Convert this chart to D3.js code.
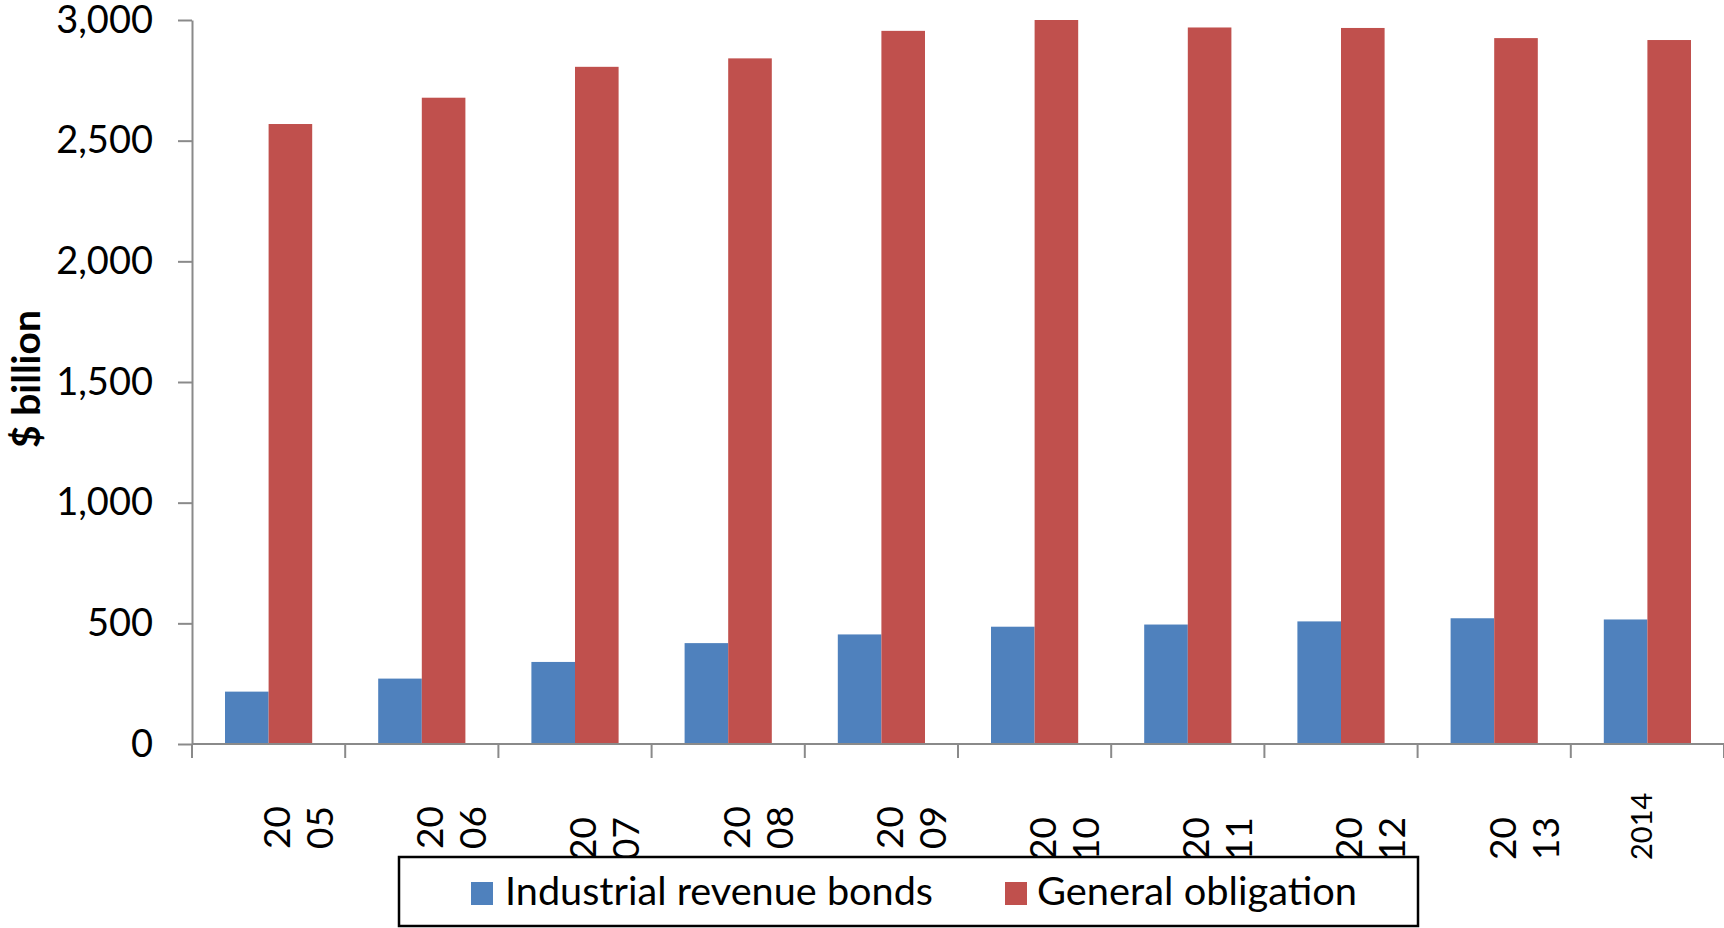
<!DOCTYPE html>
<html>
<head>
<meta charset="utf-8">
<script src="https://cdn.jsdelivr.net/npm/d3@7"></script>
<style>
  html, body { margin: 0; padding: 0; background: #fff; }
  svg { display: block; font-family: Lato, "Open Sans", sans-serif; }
</style>
</head>
<body>
<svg id="chart" width="1724" height="928"></svg>
<script>
// ---- data ----
const years = ["2005","2006","2007","2008","2009","2010","2011","2012","2013","2014"];
const yearLabelLines = [["20","05"],["20","06"],["20","07"],["20","08"],["20","09"],["20","10"],["20","11"],["20","12"],["20","13"],["2014"]];
const seriesNames = ["Industrial revenue bonds","General obligation"];
const industrialRevenueBonds = [217, 271, 340, 418, 454, 486, 495, 508, 521, 516];
const generalObligation = [2569, 2678, 2806, 2841, 2955, 3000, 2969, 2967, 2925, 2917];
const yTicks = [0, 500, 1000, 1500, 2000, 2500, 3000];
const yAxisTitle = "$ billion";

// ---- layout ----
const colors = ["#4F81BD", "#C0504D"];
const svg = d3.select("#chart");
const plotLeft = 192, plotRight = 1724, plotTop = 20, plotBottom = 744;

const x0 = d3.scaleBand().domain(years).range([plotLeft, plotRight]).padding(0);
const bw = x0.bandwidth();
const x1 = d3.scaleBand().domain(seriesNames).range([33, bw - 33]).padding(0);
const y = d3.scaleLinear().domain([0, 3000]).range([plotBottom, plotTop]);

const rows = years.map((yr, i) => ({ year: yr, values: [industrialRevenueBonds[i], generalObligation[i]] }));

// bars
const g = svg.append("g");
g.selectAll("g.grp").data(rows).join("g")
  .attr("class", "grp")
  .attr("transform", d => `translate(${x0(d.year)},0)`)
  .selectAll("rect").data(d => d.values.map((v, k) => ({ name: seriesNames[k], v, k })))
  .join("rect")
  .attr("x", d => x1(d.name))
  .attr("width", x1.bandwidth())
  .attr("y", d => y(d.v))
  .attr("height", d => y(0) - y(d.v))
  .attr("fill", d => colors[d.k]);

// y axis
const yAxis = svg.append("g")
  .attr("transform", `translate(${plotLeft},0)`)
  .call(d3.axisLeft(y).tickValues(yTicks).tickFormat(d3.format(",")).tickSizeInner(14).tickSizeOuter(0).tickPadding(25));
yAxis.select(".domain").attr("stroke", "#8a8a8a").attr("stroke-width", 2);
yAxis.selectAll(".tick line").attr("stroke", "#8a8a8a").attr("stroke-width", 2);
yAxis.selectAll(".tick text").attr("font-size", 38).attr("fill", "#000")
  .attr("font-family", "Lato, sans-serif");

// x baseline + ticks between categories
svg.append("line")
  .attr("x1", plotLeft).attr("x2", plotRight)
  .attr("y1", y(0)).attr("y2", y(0))
  .attr("stroke", "#8a8a8a").attr("stroke-width", 2);
const boundaries = years.map(yr => x0(yr)).concat([x0.range()[1]]);
svg.selectAll("line.xtick").data(boundaries).join("line")
  .attr("class", "xtick")
  .attr("x1", d => d).attr("x2", d => d)
  .attr("y1", y(0)).attr("y2", y(0) + 14)
  .attr("stroke", "#8a8a8a").attr("stroke-width", 2);

// x labels (rotated, wrapped)
const lowered = new Set(["2007","2010","2011","2012","2013","2014"]);
const xl = svg.append("g");
years.forEach((yr, i) => {
  const lines = yearLabelLines[i];
  const single = lines.length === 1;
  const bx = x0(yr) + (single ? 81 : 98);
  const by = lowered.has(yr) ? 860 : 849;
  const t = xl.append("g").attr("transform", `translate(${bx},${by}) rotate(-90)`);
  lines.forEach((ln, k) => {
    t.append("text")
      .attr("x", 0).attr("y", k * 43)
      .attr("font-size", single ? 29 : 37)
      .attr("fill", "#000")
      .text(ln);
  });
});

// y axis title
svg.append("text")
  .attr("transform", "translate(40,379) rotate(-90)")
  .attr("text-anchor", "middle")
  .attr("font-size", 39)
  .attr("font-weight", "bold")
  .attr("fill", "#000")
  .text(yAxisTitle);

// legend
const lg = svg.append("g");
lg.append("rect")
  .attr("x", 399).attr("y", 857).attr("width", 1019).attr("height", 69)
  .attr("fill", "#fff").attr("stroke", "#000").attr("stroke-width", 2.5);
const legendPos = [{ sx: 471, tx: 505, len: 428 }, { sx: 1005, tx: 1037, len: 320 }];
seriesNames.forEach((n, k) => {
  lg.append("rect")
    .attr("x", legendPos[k].sx).attr("y", 882).attr("width", 22).attr("height", 23)
    .attr("fill", colors[k]);
  lg.append("text")
    .attr("x", legendPos[k].tx).attr("y", 905)
    .attr("font-size", 38).attr("fill", "#000")
    .attr("textLength", legendPos[k].len)
    .attr("lengthAdjust", "spacingAndGlyphs")
    .text(n);
});
</script>
</body>
</html>
